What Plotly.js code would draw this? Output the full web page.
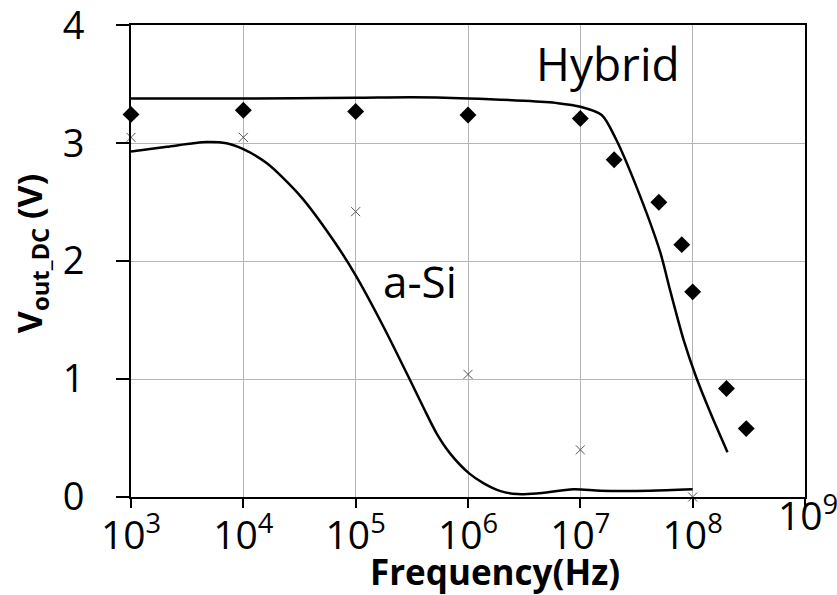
<!DOCTYPE html>
<html>
<head>
<meta charset="utf-8">
<script src="https://cdn.plot.ly/plotly-3.0.1.min.js"></script>
<style>html,body{margin:0;padding:0;background:#fff;}#chart{width:837px;height:595px;}</style>
</head>
<body>
<div id="chart"></div>
<script>
// Measured data (frequency in Hz, voltage in V)
var hybridMeasFreq = [1e3, 1e4, 1e5, 1e6, 1e7, 2e7, 5e7, 8e7, 1e8, 2e8, 3e8];
var hybridMeasV    = [3.245, 3.28, 3.27, 3.24, 3.21, 2.86, 2.50, 2.14, 1.74, 0.92, 0.58];

var asiMeasFreq = [1e3, 1e4, 1e5, 1e6, 1e7, 1e8];
var asiMeasV    = [3.05, 3.05, 2.42, 1.04, 0.40, 0.0];

// Simulated curves (log10 of frequency, voltage)
var hybridSimLogF = [3.0, 4.0, 5.0, 5.5, 6.0, 6.5, 6.8, 7.0, 7.19, 7.32, 7.50, 7.71, 7.80, 7.92, 8.03, 8.16, 8.31];
var hybridSimV    = [3.38, 3.38, 3.385, 3.39, 3.38, 3.36, 3.34, 3.31, 3.24, 3.03, 2.63, 2.08, 1.75, 1.33, 1.02, 0.71, 0.38];

var asiSimLogF = [3.0, 3.32, 3.67, 3.85, 4.0, 4.21, 4.51, 4.80, 5.0, 5.25, 5.485, 5.60, 5.72, 5.84, 6.01, 6.14, 6.29, 6.44, 6.61, 6.94, 7.18, 7.62, 8.0];
var asiSimV    = [2.93, 2.97, 3.01, 3.0, 2.95, 2.83, 2.55, 2.18, 1.88, 1.44, 0.99, 0.765, 0.54, 0.37, 0.20, 0.116, 0.05, 0.025, 0.03, 0.065, 0.053, 0.053, 0.065];

var xTickVals = [1e3, 1e4, 1e5, 1e6, 1e7, 1e8];
var xTickText = ['10<sup>3</sup>', '10<sup>4</sup>', '10<sup>5</sup>', '10<sup>6</sup>', '10<sup>7</sup>', '10<sup>8</sup>'];
var xLastTick = 1e9;
var yTickVals = [0, 1, 2, 3, 4];

function pow10(arr) { return arr.map(function (v) { return Math.pow(10, v); }); }

var FONT = 'Open Sans, Noto Sans, sans-serif';

var traces = [
  { x: pow10(hybridSimLogF), y: hybridSimV, mode: 'lines', type: 'scatter',
    line: { color: '#000', width: 2.5, shape: 'spline', smoothing: 0.8 }, hoverinfo: 'skip' },
  { x: pow10(asiSimLogF), y: asiSimV, mode: 'lines', type: 'scatter',
    line: { color: '#000', width: 2.5, shape: 'spline', smoothing: 0.8 }, hoverinfo: 'skip' },
  { x: hybridMeasFreq, y: hybridMeasV, mode: 'markers', type: 'scatter', cliponaxis: false,
    marker: { symbol: 'diamond', size: 13, color: '#000' } },
  { x: asiMeasFreq, y: asiMeasV, mode: 'markers', type: 'scatter', cliponaxis: false,
    marker: { symbol: 'x-thin-open', size: 9, color: '#555', line: { color: '#555', width: 1 } } },
  // empty trace that carries the tick-label axis
  { x: [], y: [], xaxis: 'x2', yaxis: 'y', mode: 'markers', type: 'scatter', hoverinfo: 'skip' }
];

var layout = {
  width: 837, height: 595,
  margin: { l: 131, r: 32, t: 25, b: 98 },
  paper_bgcolor: '#fff', plot_bgcolor: '#fff',
  showlegend: false,
  font: { family: FONT, color: '#000' },
  xaxis: {
    type: 'log', range: [2.9999, 9.0001],
    tickvals: xTickVals.concat([xLastTick]), showticklabels: false,
    ticks: 'outside', ticklen: 9, tickwidth: 2, tickcolor: '#000',
    showline: true, linecolor: '#000', linewidth: 2, mirror: true,
    showgrid: true, gridcolor: '#b4b4b4', gridwidth: 1,
    zeroline: false
  },
  xaxis2: {
    type: 'log', matches: 'x', overlaying: 'x', anchor: 'y', side: 'bottom',
    tickvals: xTickVals, ticktext: xTickText,
    tickfont: { size: 39, family: FONT, color: '#000' },
    ticks: '', showline: false, showgrid: false, zeroline: false,
    ticklabelstandoff: 12, ticklabeloverflow: 'allow'
  },
  yaxis: {
    range: [0, 4.003], tickvals: yTickVals,
    tickfont: { size: 38, family: FONT, color: '#000' },
    ticks: 'outside', ticklen: 13, tickwidth: 2, tickcolor: '#000',
    showline: true, linecolor: '#000', linewidth: 2, mirror: true,
    showgrid: true, gridcolor: '#b4b4b4', gridwidth: 1,
    zeroline: false, ticklabelstandoff: 24, ticklabeloverflow: 'allow'
  },
  annotations: [
    { text: '10<sup>9</sup>', xref: 'paper', yref: 'paper', x: 1.0, y: 0, xanchor: 'center', yanchor: 'top',
      xshift: 3, yshift: 14, showarrow: false, font: { size: 39, family: FONT, color: '#000' } },
    { text: '<b>Frequency(Hz)</b>', xref: 'paper', yref: 'paper', x: 0.54, y: -0.158, xanchor: 'center', yanchor: 'middle',
      showarrow: false, font: { size: 35, family: FONT, color: '#000' } },
    { text: '<b>V<sub>out_DC</sub> (V)</b>', xref: 'paper', yref: 'paper', x: -0.148, y: 0.515, textangle: -90,
      xanchor: 'center', yanchor: 'middle', showarrow: false, font: { size: 34, family: FONT, color: '#000' } },
    { text: 'Hybrid', xref: 'paper', yref: 'paper', x: 0.707, y: 0.92, xanchor: 'center', yanchor: 'middle',
      showarrow: false, font: { size: 46, family: FONT, color: '#000' } },
    { text: 'a-Si', xref: 'paper', yref: 'paper', x: 0.429, y: 0.458, xanchor: 'center', yanchor: 'middle',
      showarrow: false, font: { size: 44, family: FONT, color: '#000' } }
  ]
};

Plotly.newPlot('chart', traces, layout, { displayModeBar: false, staticPlot: true });
</script>
</body>
</html>
